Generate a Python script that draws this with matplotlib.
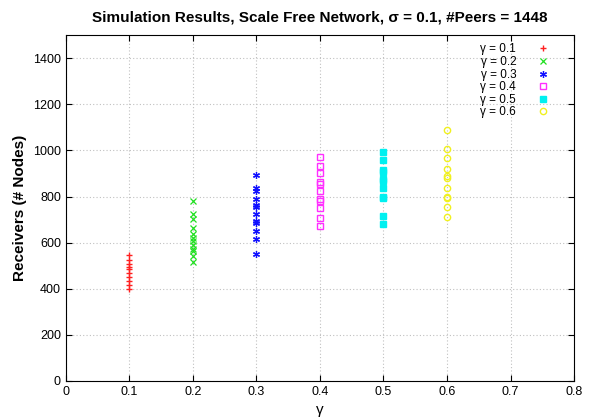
import matplotlib
matplotlib.use('Agg')
import matplotlib.pyplot as plt

plt.rcParams['font.family'] = ['Liberation Sans', 'DejaVu Sans']

# receivers per run for each gamma
gammas = [0.1, 0.2, 0.3, 0.4, 0.5, 0.6]
recv_01 = [548, 526, 509, 494, 487, 468, 449, 432, 417, 400]
recv_02 = [780, 722, 703, 664, 639, 620, 606, 591, 573, 562, 540, 514]
recv_03 = [893, 838, 823, 790, 765, 755, 722, 693, 686, 650, 617, 552]
recv_04 = [972, 932, 900, 864, 855, 823, 790, 781, 751, 707, 674]
recv_05 = [993, 957, 917, 907, 878, 867, 836, 800, 793, 717, 681]
recv_06 = [1090, 1006, 967, 920, 887, 880, 836, 800, 793, 753, 713]
all_recv = [recv_01, recv_02, recv_03, recv_04, recv_05, recv_06]

styles = [
    dict(marker='+', color='#ff2020', ms=5, mew=1.0, ls='none'),
    dict(marker='x', color='#20e020', ms=4, mew=0.9, ls='none'),
    dict(marker=(6, 2, 0), color='#1010ff', ms=5, mew=0.9, ls='none'),
    dict(marker='s', color='#ff30ff', mfc='none', ms=4.5, mew=1.0, ls='none'),
    dict(marker='s', color='#00f0f0', ms=4, ls='none'),
    dict(marker='o', color='#f0f020', mfc='none', ms=4.5, mew=1.0, ls='none'),
]

fig = plt.figure(figsize=(5.98, 4.19), dpi=100)
ax = fig.add_axes([0.110, 0.091, 0.850, 0.825])
ax.set_axisbelow(True)

for g, vals, st in zip(gammas, all_recv, styles):
    ax.plot([g] * len(vals), vals, label='\u03b3 = %.1f' % g, zorder=3, **st)

ax.set_xlim(0, 0.8)
ax.set_ylim(0, 1500)
ax.set_xticks([0, 0.1, 0.2, 0.3, 0.4, 0.5, 0.6, 0.7, 0.8])
ax.set_xticklabels(['0', '0.1', '0.2', '0.3', '0.4', '0.5', '0.6', '0.7', '0.8'])
ax.set_yticks(range(0, 1401, 200))
ax.tick_params(direction='in', top=True, right=True, labelsize=9, length=4)
ax.grid(True, color='#c0c0c0', linestyle=(0, (1, 2)), linewidth=0.8)

ax.set_title('Simulation Results, Scale Free Network, \u03c3 = 0.1, #Peers = 1448',
             fontsize=11, fontweight='bold', pad=10)
ax.set_xlabel('\u03b3', fontsize=11)
ax.set_ylabel('Receivers (# Nodes)', fontsize=11, fontweight='bold')

ax.legend(loc='upper right', bbox_to_anchor=(0.972, 1.0), frameon=False,
          markerfirst=False, fontsize=8.5, handlelength=1.5, handletextpad=1.5,
          labelspacing=0.05, borderaxespad=0.3)

fig.savefig('out.png', dpi=100)
